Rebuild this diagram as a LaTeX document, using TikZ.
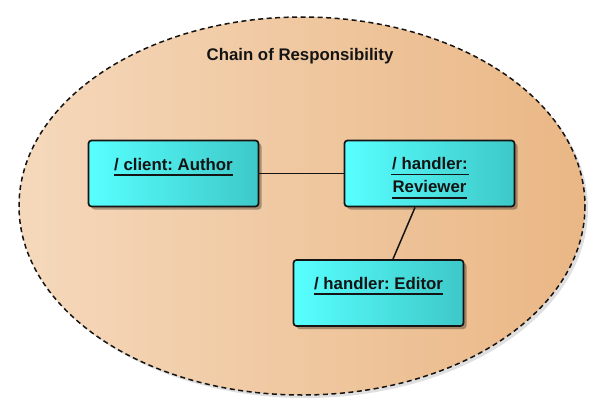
\documentclass[tikz,border=0pt]{standalone}
\usepackage{fontspec}
\setmainfont{Liberation Sans}
\usetikzlibrary{shadows}
\definecolor{ellL}{RGB}{245,216,187}
\definecolor{ellR}{RGB}{234,183,133}
\definecolor{boxL}{RGB}{88,255,255}
\definecolor{boxR}{RGB}{62,200,200}
\definecolor{ink}{RGB}{20,20,20}
\begin{document}
\frenchspacing
\begin{tikzpicture}[x=1pt,y=-1pt,
  obj/.style={draw=ink, line width=1.7pt, rounded corners=3pt,
    minimum width=170pt, minimum height=66pt, inner sep=0pt,
    left color=boxL, right color=boxR,
    drop shadow={shadow xshift=3pt, shadow yshift=-3pt, opacity=0.3, fill=black}},
  lbl/.style={anchor=base, inner sep=0pt, text=ink,
    font=\fontsize{16.8}{20}\selectfont\bfseries},
  uline/.style={draw=ink, line width=1.6pt},
  link/.style={draw=ink, line width=1.5pt}]
\useasboundingbox (0,0) rectangle (613,404);
% collaboration ellipse
\fill[black, opacity=0.12] (305,209) ellipse [x radius=283, y radius=189];
\shade[left color=ellL, right color=ellR] (302,206) ellipse [x radius=283, y radius=189];
\draw[ink, line width=1.5pt, dash pattern=on 5pt off 3.5pt] (302,206) ellipse [x radius=283, y radius=189];
\node (title) [lbl] at (300,60.5) {Chain of Responsibility};
% objects
\node (author) [obj] at (173.5,173.5) {};
\node (reviewer) [obj] at (429.5,173.5) {};
\node (editor) [obj] at (378.5,293) {};
% links
\draw[link] (author) -- (reviewer);
\draw[link] (reviewer) -- (editor);
% labels
\node (ta) [lbl] at (173.5,170) {/ client: Author};
\node (tr1) [lbl] at (430,169) {/ handler:};
\node (tr2) [lbl] at (429.5,192.5) {Reviewer};
\node (te) [lbl] at (378.5,289) {/ handler: Editor};
\draw[uline] ([yshift=-5pt]ta.base west) -- ([yshift=-5pt]ta.base east);
\draw[uline] ([xshift=-1pt,yshift=-5.5pt]tr1.base west) -- ([xshift=1pt,yshift=-5.5pt]tr1.base east);
\draw[uline] ([yshift=-5.5pt]tr2.base west) -- ([yshift=-5.5pt]tr2.base east);
\draw[uline] ([yshift=-5pt]te.base west) -- ([yshift=-5pt]te.base east);
\end{tikzpicture}
\end{document}
